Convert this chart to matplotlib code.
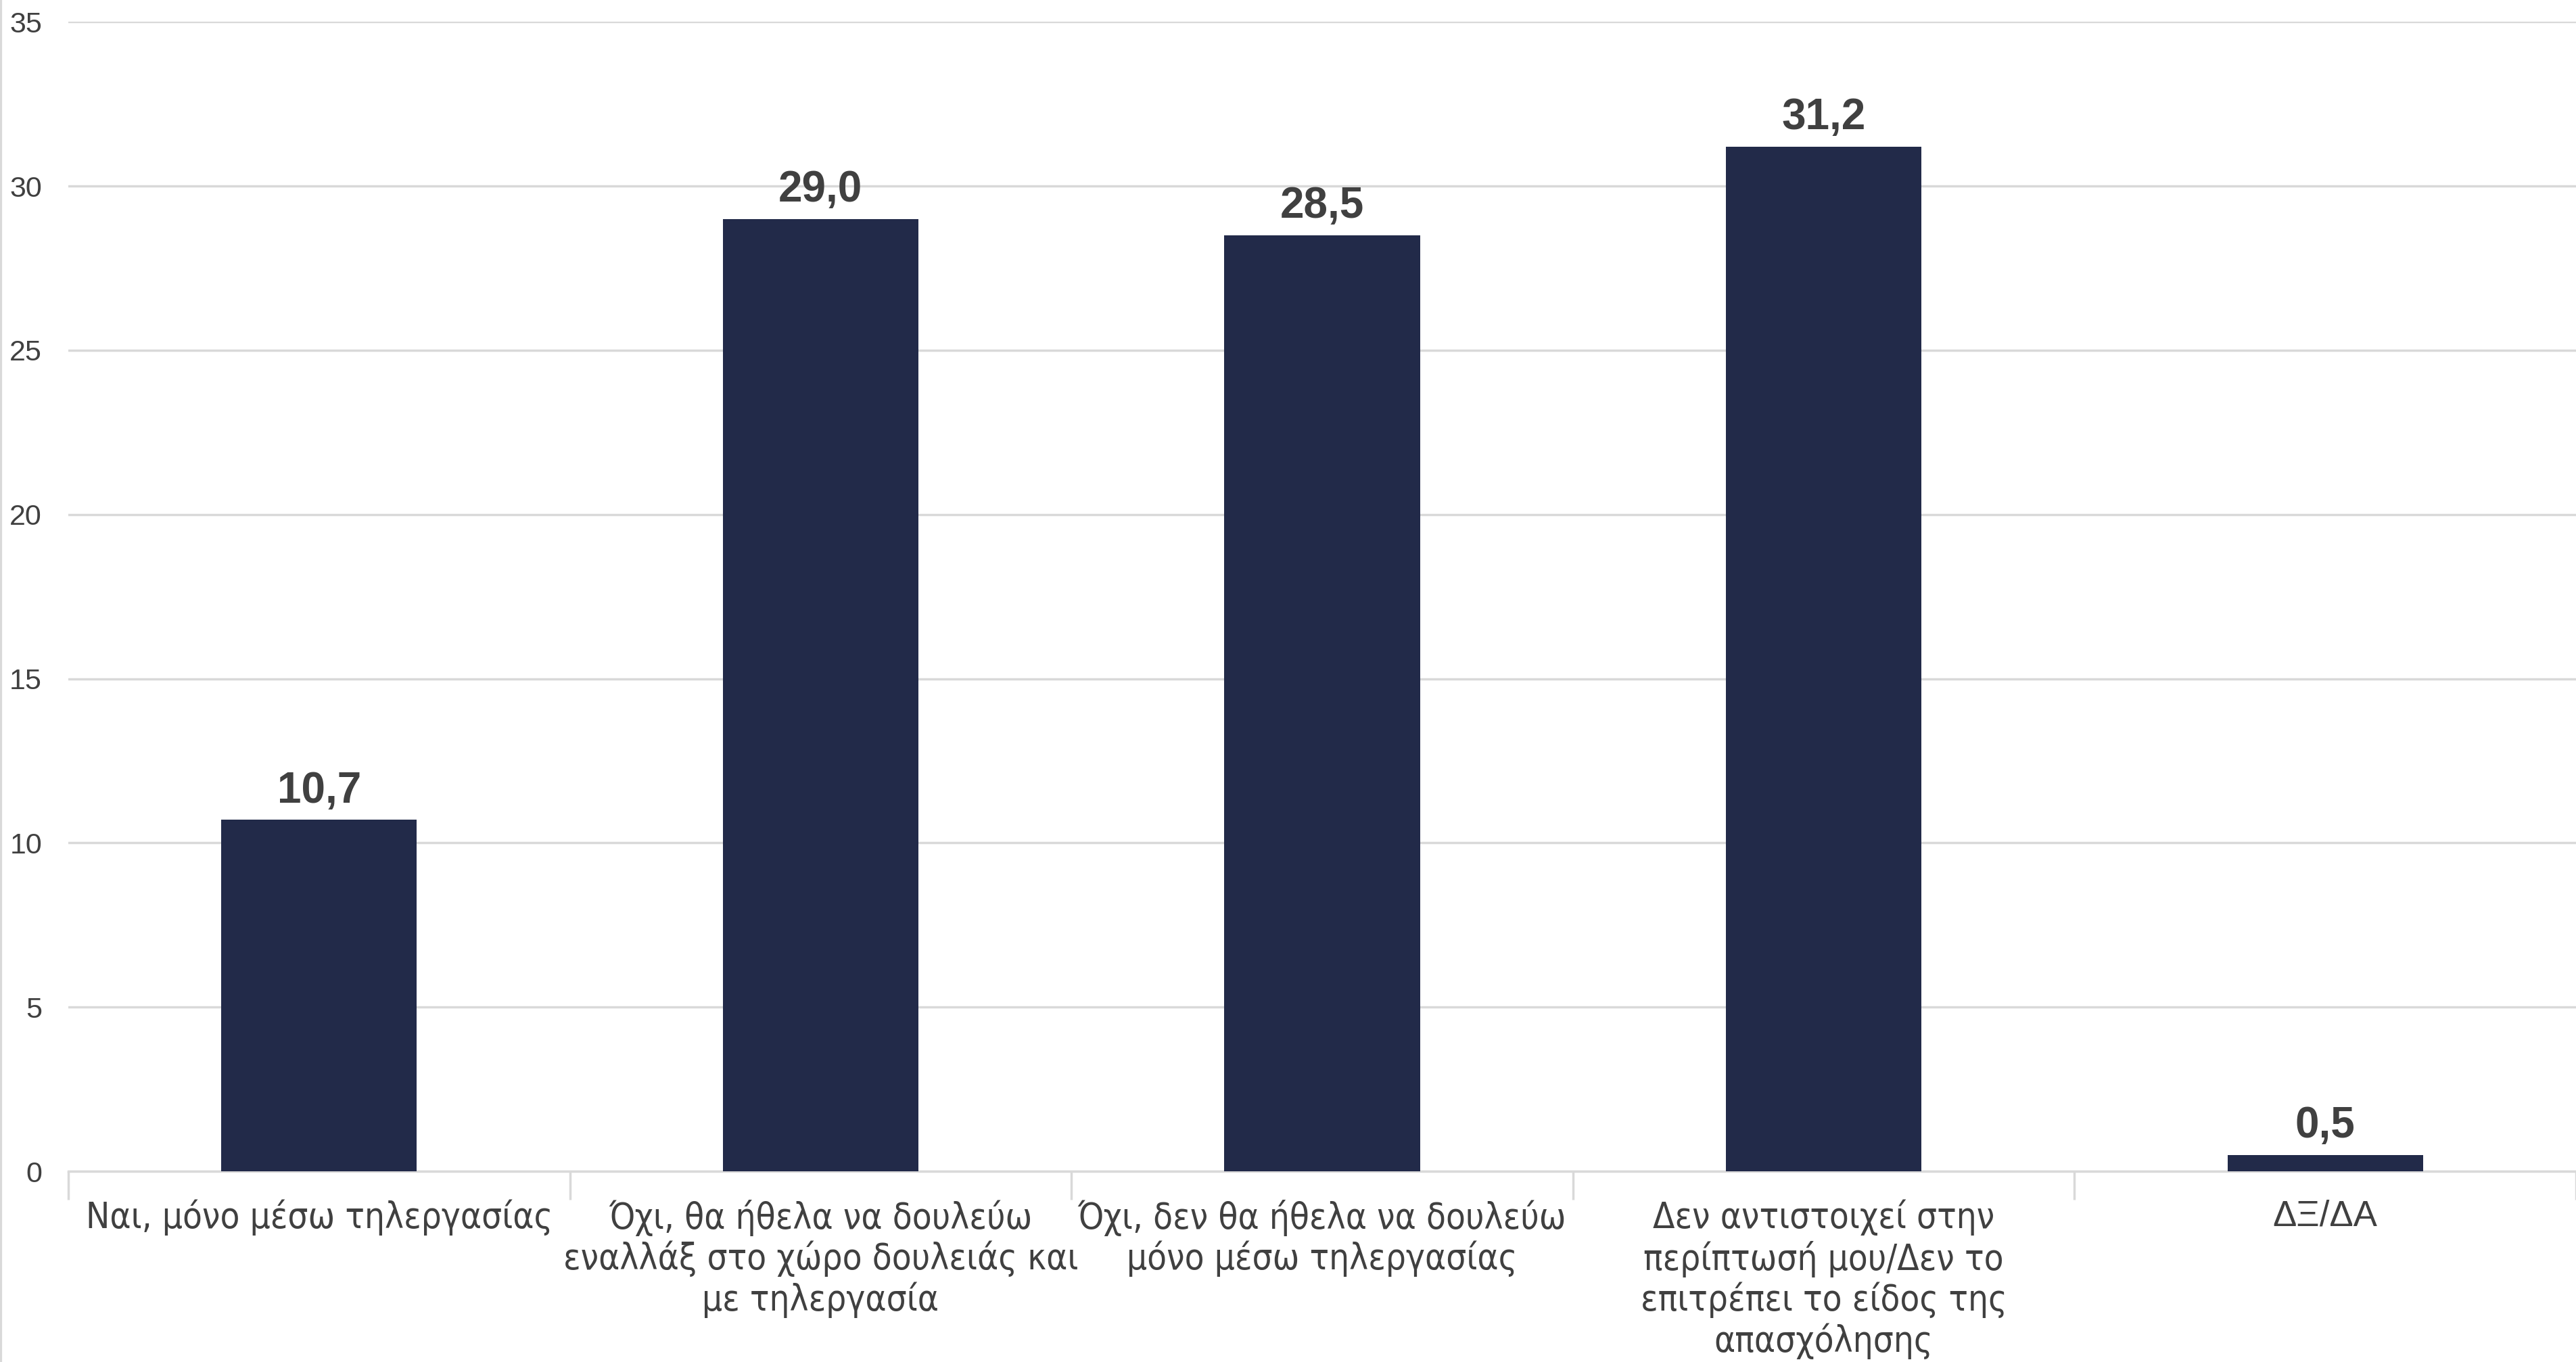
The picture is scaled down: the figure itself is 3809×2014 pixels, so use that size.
import matplotlib
matplotlib.use("Agg")
import matplotlib.pyplot as plt
from matplotlib.lines import Line2D
from matplotlib import font_manager
import numpy as np

categories = [
    "Ναι, μόνο μέσω τηλεργασίας",
    "Όχι, θα ήθελα να δουλεύω\nεναλλάξ στο χώρο δουλειάς και\nμε τηλεργασία",
    "Όχι, δεν θα ήθελα να δουλεύω\nμόνο μέσω τηλεργασίας",
    "Δεν αντιστοιχεί στην\nπερίπτωσή μου/Δεν το\nεπιτρέπει το είδος της\nαπασχόλησης",
    "ΔΞ/ΔΑ",
]
values = [10.7, 29.0, 28.5, 31.2, 0.5]
yticks = [0, 5, 10, 15, 20, 25, 30, 35]

BAR = "#222A49"
TXT = "#404040"
GRID = "#D9D9D9"

# pick a condensed font if one is installed
cond_prop = None
for f in font_manager.fontManager.ttflist:
    nm = (f.name + " " + str(f.fname)).lower()
    if ("narrow" in nm or "condensed" in nm) and f.weight in (400, "normal", "regular") \
            and f.style == "normal":
        cond_prop = font_manager.FontProperties(fname=f.fname)
        break

fig = plt.figure(figsize=(38.09, 20.14), dpi=100)
ax = fig.add_axes([0.0265, 0.140, 0.9735, 0.844])

x = np.arange(len(categories))
ax.bar(x, values, width=0.39, color=BAR, zorder=3)

ax.set_ylim(0, 35)
ax.set_xlim(-0.5, len(categories) - 0.5)
ax.set_yticks(yticks)
ax.set_yticklabels([str(v) for v in yticks], fontsize=31, color=TXT,
                   family=["Liberation Sans", "DejaVu Sans"])
ax.tick_params(axis="y", length=0, pad=28)
ax.yaxis.grid(True, color=GRID, linewidth=2.5, zorder=0)
ax.set_axisbelow(True)

for s in ["top", "right", "left"]:
    ax.spines[s].set_visible(False)
ax.spines["bottom"].set_color(GRID)
ax.spines["bottom"].set_linewidth(2.5)

ax.set_xticks(np.arange(len(categories) + 1) - 0.5)
ax.set_xticklabels([])
ax.tick_params(axis="x", which="major", length=30, width=2.5, color=GRID)
ax.set_xticks(x, minor=True)
ax.set_xticklabels(categories, minor=True, color=TXT, va="top")
ax.tick_params(axis="x", which="minor", length=0, pad=30)
labels = ax.xaxis.get_minorticklabels()
for lab in labels[:-1]:
    if cond_prop is not None:
        lab.set_fontproperties(cond_prop)
        lab.set_fontsize(38)
    else:
        lab.set_family(["Liberation Sans", "DejaVu Sans"])
        lab.set_fontsize(35)
    lab.set_linespacing(1.17)
labels[-1].set_family(["Liberation Sans", "DejaVu Sans"])
labels[-1].set_fontsize(38)

for xi, v in zip(x, values):
    ax.annotate(f"{v:.1f}".replace(".", ","), (xi, v), xytext=(0, 9),
                textcoords="offset points", ha="center", va="bottom",
                fontsize=46, fontweight="bold", color=TXT,
                family=["Liberation Sans", "DejaVu Sans"])

fig.add_artist(Line2D([0.0003, 0.0003], [0, 1], transform=fig.transFigure,
                      color=GRID, linewidth=3))

fig.savefig("out.png", dpi=100, facecolor="white")
